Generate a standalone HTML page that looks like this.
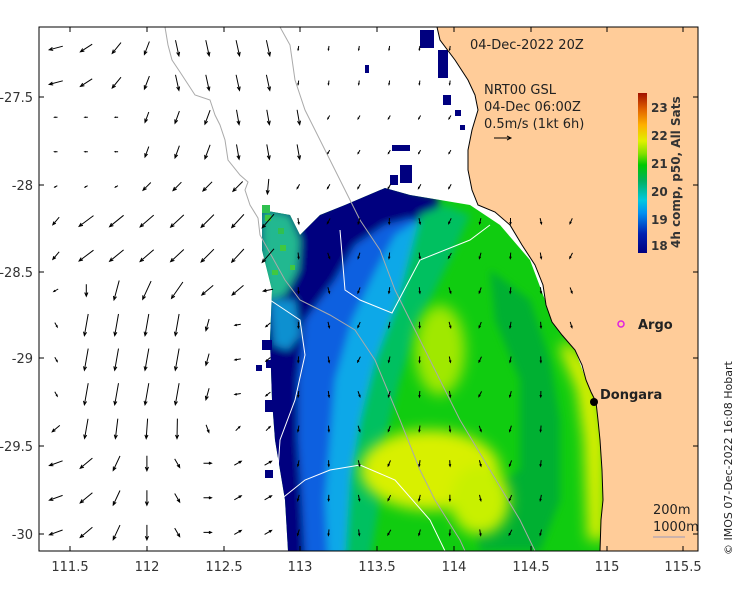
<!DOCTYPE html>
<html><head><meta charset="utf-8"><style>
body{margin:0;background:#fff;width:740px;height:592px;overflow:hidden;font-family:"Liberation Sans","DejaVu Sans",sans-serif}
svg text{font-family:"DejaVu Sans","Liberation Sans",sans-serif}
</style></head><body>
<svg id="s" width="740" height="592" viewBox="0 0 740 592" xmlns="http://www.w3.org/2000/svg">
<defs>
<filter id="b" x="-20%" y="-20%" width="140%" height="140%"><feGaussianBlur stdDeviation="7"/></filter>
<filter id="b2" x="-10%" y="-10%" width="120%" height="120%"><feGaussianBlur stdDeviation="4"/></filter>
<clipPath id="c"><rect x="39" y="27" width="659" height="524"/></clipPath>
<clipPath id="d"><polygon points="300,235 320,215 345,205 385,188 410,195 440,200 470,205 500,225 530,260 545,300 560,330 575,350 586,380 596,402 600,440 603,500 601,551 288,551 285,500 275,440 272,400 270,340 272,290 262,250 262,210 290,215"/></clipPath>
<linearGradient id="cb" x1="0" y1="1" x2="0" y2="0">
<stop offset="0" stop-color="#00007f"/><stop offset="0.12" stop-color="#0020b0"/><stop offset="0.25" stop-color="#0090f0"/><stop offset="0.33" stop-color="#00c8e0"/><stop offset="0.45" stop-color="#00b060"/><stop offset="0.55" stop-color="#00c800"/><stop offset="0.62" stop-color="#80e000"/><stop offset="0.7" stop-color="#e0f000"/><stop offset="0.8" stop-color="#ffb000"/><stop offset="0.9" stop-color="#e06000"/><stop offset="1" stop-color="#a01000"/>
</linearGradient>
</defs>
<g clip-path="url(#c)">
<g clip-path="url(#d)">
<rect x="250" y="180" width="360" height="380" fill="#10cc10"/>
<g filter="url(#b2)">
<polygon fill="#00007f" points="240,200 320,210 345,195 385,180 410,190 440,198 435,235 405,285 375,330 355,380 340,430 335,480 330,560 240,560"/>
<polygon fill="#1060e0" points="355,245 385,225 412,218 432,240 405,290 378,335 358,390 348,440 340,500 338,560 305,560 302,500 298,440 298,380 305,320 335,280"/>
<polygon fill="#10a8e8" points="395,235 422,218 442,228 422,272 398,322 380,380 365,440 355,500 350,560 328,560 325,500 330,440 335,380 352,320 375,272"/>
<polygon fill="#00c060" points="420,215 445,205 470,215 450,260 420,320 400,380 385,440 380,500 370,560 345,560 350,480 360,420 375,360 398,300"/>
<polygon fill="#00b030" points="490,270 530,300 550,360 560,420 560,500 540,551 480,551 470,500 520,470 520,380 495,320"/>
<polygon fill="#20b890" points="262,210 290,215 300,240 298,270 285,295 268,300 262,260"/>
<polygon fill="#1090d0" points="270,300 295,300 300,335 288,350 274,345"/>
</g>
<g filter="url(#b)">
<ellipse cx="430" cy="470" rx="70" ry="40" fill="#d8f000"/>
<ellipse cx="480" cy="500" rx="30" ry="35" fill="#c8f000"/>
<ellipse cx="440" cy="350" rx="25" ry="45" fill="#a0e800"/>
<polygon fill="#e0f000" points="565,340 585,360 598,390 605,440 605,540 588,540 584,440 577,390 560,350"/>
</g>
<g fill="#40c840"><rect x="265" y="215" width="6" height="6"/><rect x="280" y="245" width="6" height="6"/><rect x="290" y="265" width="5" height="5"/><rect x="272" y="270" width="6" height="5"/></g>
</g>
<g fill="#00007f">
<rect x="420" y="30" width="14" height="18"/><rect x="438" y="50" width="10" height="28"/><rect x="443" y="95" width="8" height="10"/><rect x="455" y="110" width="6" height="6"/><rect x="400" y="165" width="12" height="18"/><rect x="390" y="175" width="8" height="10"/><rect x="365" y="65" width="4" height="8"/><rect x="460" y="125" width="5" height="5"/><rect x="392" y="145" width="18" height="6"/>
<rect x="262" y="340" width="10" height="10"/><rect x="265" y="400" width="8" height="12"/><rect x="266" y="360" width="6" height="8"/><rect x="256" y="365" width="6" height="6"/><rect x="265" y="470" width="8" height="8"/>
</g>
<g fill="#30c050"><rect x="262" y="205" width="8" height="8"/><rect x="278" y="228" width="6" height="6"/></g>
<g fill="none" stroke="#aaa" stroke-width="1">
<path d="M165,27 L168,45 L172,60 L180,72 L195,95 L210,100 L215,115 L220,125 L225,140 L228,160 L240,175 L248,182 L245,190 L250,205 L258,218 L260,235 L285,280 L300,300 L330,315 L355,330 L375,360 L400,420 L420,470 L435,500 L460,540 L465,551"/>
<path d="M280,27 L290,45 L295,80 L305,110 L320,140 L335,170 L345,190 L360,220 L380,250 L395,290 L420,340 L440,380 L460,420 L490,470 L520,520 L535,551"/>
</g>
<g fill="none" stroke="#fff" stroke-width="1">
<path d="M340,230 L345,290 L360,300 L392,313 L420,260 L470,240 L490,225"/>
<path d="M270,300 L300,320 L305,355 L295,400 L280,440 L278,470"/>
<path d="M280,500 L305,480 L330,470 L360,465 L395,480 L430,520 L445,551"/>
</g>
<polygon fill="#ffcc99" stroke="#000" stroke-width="1" points="437,27 440,40 455,60 468,80 475,95 478,110 472,130 468,150 468,170 472,190 478,205 495,212 510,225 522,245 535,265 543,285 546,305 552,322 562,335 575,350 582,365 586,380 591,392 596,402 598,420 600,440 602,470 603,500 601,520 600,551 700,551 700,27"/>
</g>
<g id="arr" stroke="#000" stroke-width="1" fill="none"></g>
<rect x="39" y="27" width="659" height="524" fill="none" stroke="#000" stroke-width="1"/>
<g font-size="13" fill="#333" text-anchor="middle">
<text x="70" y="571">111.5</text><text x="147" y="571">112</text><text x="224" y="571">112.5</text><text x="300" y="571">113</text><text x="377" y="571">113.5</text><text x="454" y="571">114</text><text x="531" y="571">114.5</text><text x="607" y="571">115</text><text x="683" y="571">115.5</text>
</g>
<g stroke="#000"><path d="M70,551v-5M147,551v-5M224,551v-5M300,551v-5M377,551v-5M454,551v-5M531,551v-5M607,551v-5M683,551v-5M70,27v5M147,27v5M224,27v5M300,27v5M377,27v5M454,27v5M531,27v5M607,27v5M683,27v5"/></g>
<g font-size="13" fill="#333" text-anchor="end">
<text x="33" y="102">-27.5</text><text x="33" y="190">-28</text><text x="33" y="277">-28.5</text><text x="33" y="363">-29</text><text x="33" y="451">-29.5</text><text x="33" y="539">-30</text>
</g>
<g stroke="#000"><path d="M39,97h5M39,185h5M39,272h5M39,358h5M39,446h5M39,534h5M693,97h5M693,185h5M693,272h5M693,358h5M693,446h5M693,534h5"/></g>
<text x="470" y="49" font-size="13" fill="#222">04-Dec-2022 20Z</text>
<text x="484" y="94" font-size="13" fill="#222">NRT00 GSL</text>
<text x="484" y="111" font-size="13" fill="#222">04-Dec 06:00Z</text>
<text x="484" y="128" font-size="13" fill="#222">0.5m/s (1kt 6h)</text>
<path d="M494,138h17M507,136l4,2l-4,2" stroke="#000" fill="none"/>
<rect x="638" y="93" width="9" height="160" fill="url(#cb)"/>
<g font-size="12" font-weight="bold" fill="#333">
<text x="651" y="112">23</text><text x="651" y="140">22</text><text x="651" y="168">21</text><text x="651" y="196">20</text><text x="651" y="224">19</text><text x="651" y="250">18</text>
</g>
<text transform="translate(680,248) rotate(-90)" font-size="12" font-weight="bold" fill="#333">4h comp, p50, All Sats</text>
<circle cx="621" cy="324" r="3" fill="none" stroke="#e020e0" stroke-width="1.5"/>
<text x="638" y="329" font-size="13" font-weight="bold" fill="#222">Argo</text>
<circle cx="594" cy="402" r="4" fill="#000"/>
<text x="600" y="399" font-size="13" font-weight="bold" fill="#222">Dongara</text>
<text x="653" y="514" font-size="13" fill="#222">200m</text>
<text x="653" y="531" font-size="13" fill="#222">1000m</text>
<path d="M653,537h32" stroke="#99b"/>
<text transform="translate(732,555) rotate(-90)" font-size="11" fill="#222">© IMOS 07-Dec-2022 16:08 Hobart</text>
</svg>
<script>
function f(c,r){
 if(r<=1){ if(c<=3) return [165-c*18,14]; if(c<=7) return [78,16]; return [100,4]; }
 if(r<=3){ if(c<=2) return [180,3]; if(c<=5) return [110,5+c*2]; if(c<=8) return [80,15]; return [120,4]; }
 if(r==4){ if(c<=2) return [150,3]; if(c<=6) return [135,8+c]; if(c<=8) return [95,15]; return [120,4]; }
 if(r<=6){ if(c==0) return [130,10]; return [145-c*2,18]; }
 if(r==7){ if(c==0) return [150,5]; if(c==1) return [90,12]; if(c<=4) return [105+(c-2)*10,20]; if(c<=6) return [140,15]; return [170,10]; }
 if(r<=10){ if(c==0) return [60,5]; if(c<=4) return [100,22]; if(c==5) return [105,12]; if(c==6) return [170,6]; return [140,6]; }
 if(r==11){ if(c==0) return [140,10]; if(c<=4) return [100-(c-1)*3,20]; if(c==5) return [70,8]; return [-45,6]; }
 if(c==0) return [160,14]; if(c==1) return [140,16]; if(c==2) return [115,16]; if(c==3) return [90,15];
 if(c==4) return [60,10]; if(c==5) return [0,8]; return [-30,8];
}
var g=document.getElementById('arr'),h='';
for(var r=0;r<15;r++)for(var c=0;c<18;c++){
 var x=56+c*30.3,y=48+r*34.6;
 if(x>462 && y<205)continue; if(x>575)continue;
 if(y>330 && x>555) continue;
 var v;
 if(x>285&&r>=5){ v=[95+((c*37+r*53)%50)-25,6]; }
 else if(x>285 && r>=4){ v=[120,5]; }
 else v=f(c,r);
 var ang=v[0]*Math.PI/180,len=v[1];
 var dx=Math.cos(ang)*len, dy=Math.sin(ang)*len;
 var x1=x-dx/2,y1=y-dy/2,x2=x+dx/2,y2=y+dy/2;
 var hl=Math.min(4,len*0.35);
 h+='<path d="M'+x1.toFixed(1)+','+y1.toFixed(1)+'L'+x2.toFixed(1)+','+y2.toFixed(1)+'M'+(x2-hl*Math.cos(ang-0.4)).toFixed(1)+','+(y2-hl*Math.sin(ang-0.4)).toFixed(1)+'L'+x2.toFixed(1)+','+y2.toFixed(1)+'L'+(x2-hl*Math.cos(ang+0.4)).toFixed(1)+','+(y2-hl*Math.sin(ang+0.4)).toFixed(1)+'"/>';
}
g.innerHTML=h;
</script>
</body></html>
